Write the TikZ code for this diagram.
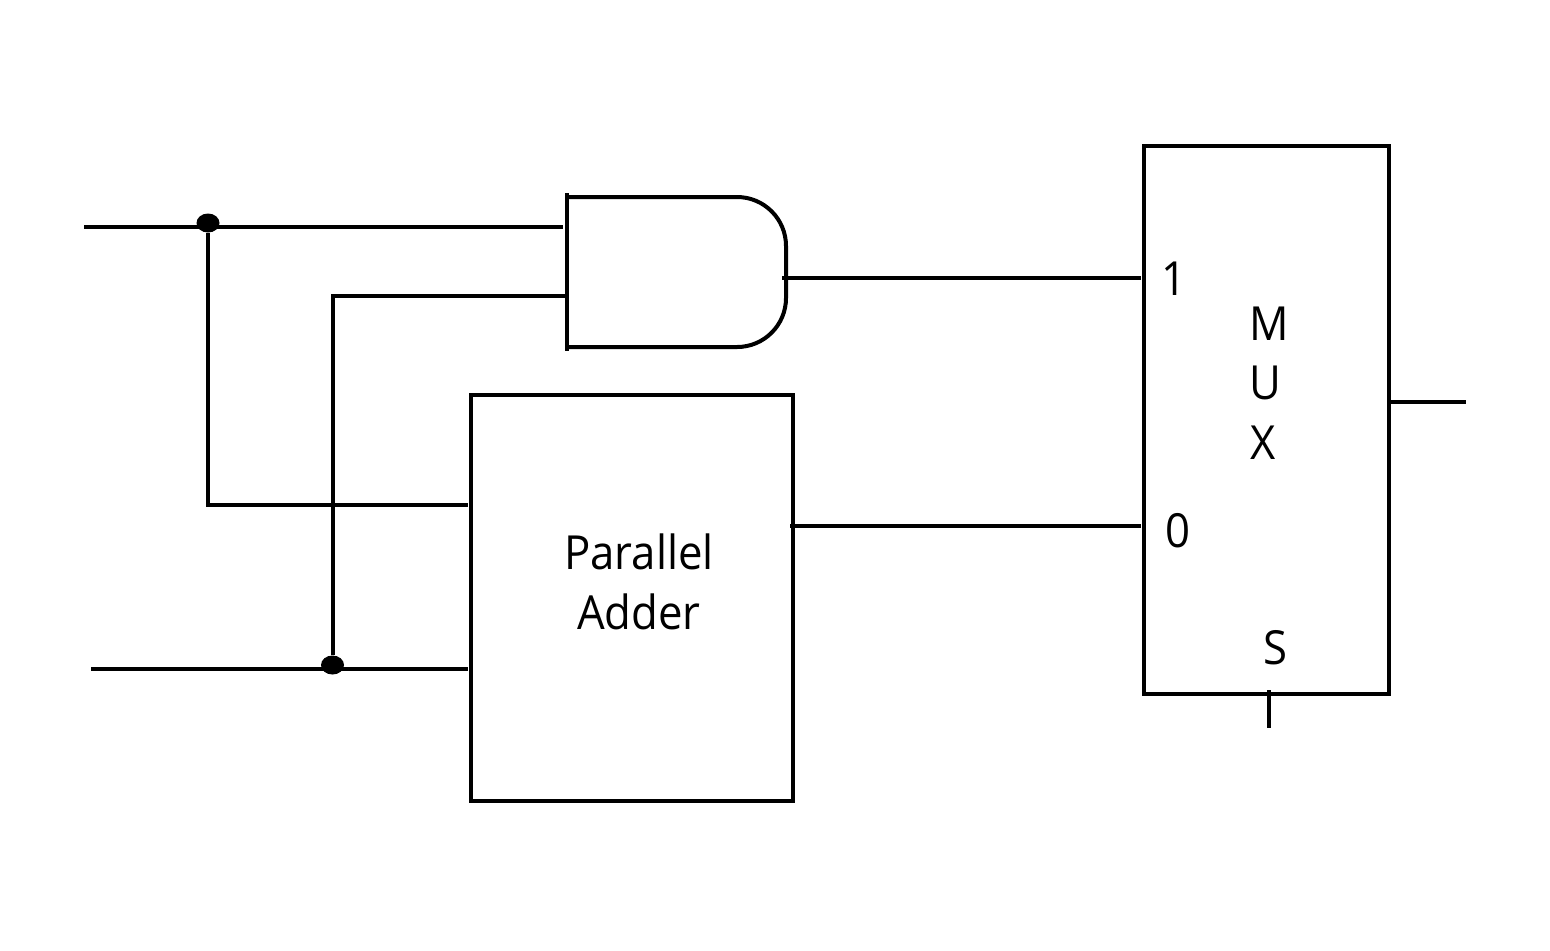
\documentclass[tikz,border=0pt]{standalone}
\usepackage{fontspec}
\setmainfont[FakeStretch=0.93]{Open Sans}
\usetikzlibrary{positioning,calc,shapes.geometric}
\tikzset{wire/.style={line width=2pt}, blockbox/.style={draw, line width=2pt, inner sep=0pt}, dotnode/.style={draw=none, fill=black, ellipse, minimum width=11.5pt, minimum height=9.5pt, inner sep=0pt}, lbl/.style={font=\fontsize{23.5}{30}\selectfont, inner sep=0pt}}
\begin{document}
\begin{tikzpicture}[x=0.5pt, y=-0.5pt]
        \useasboundingbox (0,0) rectangle (1550,950);
        \node[blockbox, minimum width=161pt, minimum height=203pt] (adder) at (632,597.5) {};
        \node[blockbox, minimum width=122.5pt, minimum height=274pt] (mux) at (1266.5,420) {};
        \node[lbl, align=center] (addertext) at (639,581.5) {Parallel\\Adder};
        \node[lbl] (m) at (1269,323.5) {M};
        \node[lbl] (u) at (1265,382.5) {U};
        \node[lbl] (x) at (1263,443) {X};
        \node[lbl] (one) at (1174,279) {1};
        \node[lbl] (zero) at (1178,530.5) {0};
        \node[lbl] (s) at (1275,647.5) {S};
        \node[dotnode] (d1) at (208,223) {};
        \node[dotnode] (d2) at (332.5,665) {};
        % gate
        \coordinate (gtop) at (566.5,193);
        \coordinate (gbot) at (566.5,351);
        \draw[wire] (gtop) -- (gbot);
        \draw[wire, rounded corners=24.5pt] (566.5,197) -- (786,197) -- (786,347) -- (566.5,347);
        % free ends
        \coordinate (in1) at (84,226.5);
        \coordinate (in2) at (91,668.5);
        \coordinate (g1) at (563,226.5);
        \coordinate (g2) at (566.5,296);
        \coordinate (gout) at (782,277.5);
        \coordinate (m1) at (1141,277.5);
        \coordinate (m0) at (1141,526);
        \coordinate (a1) at (468,504.5);
        \coordinate (a2) at (468,668.5);
        \coordinate (aout) at (790,526);
        \coordinate (mout) at (1389,402);
        \coordinate (qq) at (1466,402);
        \coordinate (st) at (1268.5,690);
        \coordinate (sb) at (1268.5,728);
        \draw[wire] (in1) -- (g1);
        \draw[wire] (in2) -- (a2);
        \draw[wire] (d1) |- (a1);
        \draw[wire] (d2) |- (g2);
        \draw[wire] (gout) -- (m1);
        \draw[wire] (aout) -- (m0);
        \draw[wire] (mout) -- (qq);
        \draw[wire] (st) -- (sb);
\end{tikzpicture}
\end{document}
